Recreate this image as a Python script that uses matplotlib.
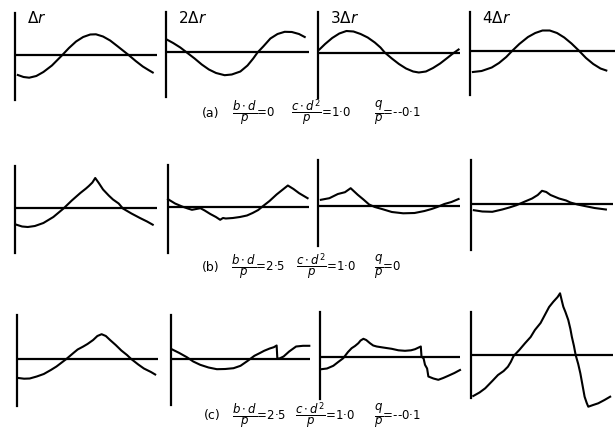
import numpy as np
import matplotlib
matplotlib.use("Agg")
import matplotlib.pyplot as plt

# time along each trace (fraction of the window) and displacement
a1_x = [0.02, 0.06, 0.10, 0.15, 0.20, 0.26, 0.33, 0.38, 0.43, 0.48, 0.53, 0.57, 0.62, 0.67, 0.72, 0.76, 0.80, 0.85, 0.90, 0.94, 0.97]
a1_y = [-2.0, -2.2, -2.27, -2.1, -1.7, -1.05, -0.05, 0.7, 1.35, 1.8, 2.05, 2.07, 1.85, 1.45, 0.9, 0.45, 0.0, -0.6, -1.15, -1.5, -1.75]
a2_x = [0.005, 0.05, 0.10, 0.15, 0.20, 0.25, 0.30, 0.35, 0.41, 0.46, 0.52, 0.57, 0.61, 0.64, 0.68, 0.73, 0.78, 0.83, 0.88, 0.93, 0.97]
a2_y = [1.3, 0.95, 0.5, -0.05, -0.6, -1.2, -1.7, -2.05, -2.27, -2.2, -1.9, -1.3, -0.6, 0.0, 0.6, 1.4, 1.85, 2.07, 2.05, 1.85, 1.55]
a3_x = [0.01, 0.05, 0.10, 0.15, 0.20, 0.25, 0.30, 0.35, 0.40, 0.44, 0.47, 0.52, 0.57, 0.62, 0.67, 0.71, 0.76, 0.81, 0.86, 0.91, 0.95, 0.99]
a3_y = [0.3, 0.85, 1.45, 1.9, 2.15, 2.1, 1.85, 1.5, 1.0, 0.5, 0.0, -0.6, -1.15, -1.6, -1.9, -2.0, -1.9, -1.55, -1.1, -0.55, -0.1, 0.3]
a4_x = [0.02, 0.08, 0.15, 0.20, 0.25, 0.29, 0.34, 0.40, 0.45, 0.50, 0.55, 0.60, 0.65, 0.70, 0.75, 0.80, 0.85, 0.90, 0.94]
a4_y = [-2.1, -2.0, -1.65, -1.2, -0.6, 0.0, 0.7, 1.4, 1.8, 2.05, 2.05, 1.8, 1.35, 0.75, 0.05, -0.7, -1.3, -1.75, -1.95]

b1_x = [0.01, 0.05, 0.09, 0.14, 0.20, 0.27, 0.34, 0.40, 0.46, 0.50, 0.52, 0.545, 0.565, 0.59, 0.62, 0.66, 0.69, 0.73, 0.76, 0.82, 0.88, 0.93, 0.97]
b1_y = [-1.67, -1.85, -1.9, -1.8, -1.5, -0.9, -0.07, 0.75, 1.5, 1.95, 2.2, 2.55, 3.0, 2.5, 1.85, 1.25, 0.85, 0.45, -0.05, -0.55, -1.0, -1.35, -1.67]
b2_x = [0.0, 0.05, 0.10, 0.14, 0.17, 0.20, 0.23, 0.26, 0.30, 0.34, 0.37, 0.39, 0.41, 0.46, 0.51, 0.56, 0.60, 0.64, 0.67, 0.72, 0.77, 0.81, 0.85, 0.89, 0.93, 0.99]
b2_y = [0.73, 0.3, 0.0, -0.2, -0.33, -0.25, -0.17, -0.4, -0.75, -1.05, -1.33, -1.15, -1.2, -1.15, -1.05, -0.9, -0.65, -0.35, 0.0, 0.55, 1.2, 1.65, 2.1, 1.75, 1.33, 0.83]
b3_x = [0.02, 0.08, 0.14, 0.19, 0.23, 0.28, 0.32, 0.36, 0.40, 0.45, 0.52, 0.60, 0.68, 0.75, 0.80, 0.84, 0.89, 0.94, 0.99]
b3_y = [0.57, 0.73, 1.15, 1.33, 1.73, 1.07, 0.6, 0.1, -0.15, -0.35, -0.65, -0.78, -0.75, -0.55, -0.35, -0.15, 0.15, 0.35, 0.65]
b4_x = [0.02, 0.08, 0.15, 0.22, 0.27, 0.32, 0.38, 0.43, 0.47, 0.50, 0.53, 0.56, 0.62, 0.67, 0.70, 0.75, 0.80, 0.87, 0.95]
b4_y = [-0.67, -0.8, -0.83, -0.6, -0.4, -0.17, 0.2, 0.5, 0.85, 1.27, 1.15, 0.85, 0.5, 0.3, 0.1, -0.1, -0.25, -0.45, -0.6]

c1_x = [0.01, 0.05, 0.09, 0.14, 0.19, 0.24, 0.28, 0.35, 0.40, 0.43, 0.47, 0.50, 0.54, 0.57, 0.60, 0.63, 0.66, 0.70, 0.74, 0.78, 0.81, 0.86, 0.90, 0.95, 0.98]
c1_y = [-1.9, -1.97, -1.95, -1.75, -1.5, -1.1, -0.75, 0.0, 0.6, 0.95, 1.25, 1.5, 1.9, 2.3, 2.48, 2.3, 1.9, 1.4, 0.85, 0.4, 0.0, -0.55, -0.95, -1.3, -1.55]
c2_x = [0.005, 0.06, 0.114, 0.16, 0.21, 0.27, 0.33, 0.39, 0.45, 0.50, 0.55, 0.60, 0.64, 0.67, 0.71, 0.74, 0.76, 0.765, 0.78, 0.81, 0.85, 0.90, 0.95, 0.995]
c2_y = [0.93, 0.55, 0.13, -0.3, -0.63, -0.9, -1.07, -1.05, -0.97, -0.73, -0.25, 0.27, 0.55, 0.77, 1.0, 1.13, 1.3, 0.0, 0.0, 0.2, 0.7, 1.2, 1.27, 1.27]
c3_x = [0.01, 0.05, 0.095, 0.13, 0.166, 0.20, 0.226, 0.25, 0.274, 0.29, 0.31, 0.33, 0.357, 0.38, 0.405, 0.45, 0.512, 0.56, 0.607, 0.65, 0.679, 0.72, 0.725, 0.74, 0.75, 0.765, 0.774, 0.81, 0.845, 0.88, 0.916, 0.96, 1.0]
c3_y = [-1.27, -1.2, -0.93, -0.55, -0.17, 0.45, 0.83, 1.05, 1.33, 1.6, 1.77, 1.65, 1.33, 1.1, 1.0, 0.9, 0.77, 0.62, 0.57, 0.62, 0.73, 1.0, 0.0, -0.2, -0.83, -1.2, -2.0, -2.2, -2.33, -2.15, -1.93, -1.65, -1.35]
c4_x = [0.016, 0.06, 0.10, 0.15, 0.19, 0.23, 0.26, 0.28, 0.30, 0.34, 0.38, 0.42, 0.45, 0.49, 0.52, 0.55, 0.58, 0.61, 0.627, 0.64, 0.65, 0.665, 0.685, 0.70, 0.71, 0.725, 0.737, 0.755, 0.77, 0.785, 0.80, 0.815, 0.826, 0.86, 0.896, 0.94, 0.98]
c4_y = [-4.1, -3.75, -3.33, -2.6, -2.0, -1.6, -1.17, -0.7, -0.1, 0.5, 1.17, 1.8, 2.5, 3.2, 4.0, 4.8, 5.33, 5.8, 6.17, 5.4, 4.83, 4.3, 3.5, 2.6, 1.83, 0.9, 0.0, -0.9, -1.83, -3.0, -4.17, -4.8, -5.17, -5.0, -4.83, -4.5, -4.17]

traces = [[(a1_x, a1_y), (a2_x, a2_y), (a3_x, a3_y), (a4_x, a4_y)],
	[(b1_x, b1_y), (b2_x, b2_y), (b3_x, b3_y), (b4_x, b4_y)],
	[(c1_x, c1_y), (c2_x, c2_y), (c3_x, c3_y), (c4_x, c4_y)]]

step_labels = [r"$\Delta r$", r"$2\Delta r$", r"$3\Delta r$", r"$4\Delta r$"]
case_labels = ["(a)", "(b)", "(c)"]
bd_vals = ["0", "2·5", "2·5"]
cd2_vals = ["1·0", "1·0", "1·0"]
q_vals = ["--0·1", "0", "--0·1"]

# panel frames in pixels: origin x, zero-line y, length, top and bottom of the axis line
frames = [[(15, 55, 142, 13, 100), (166, 52.5, 143, 12, 97), (318, 52.5, 142, 12, 98), (470, 51, 145, 12, 95)],
	[(15, 208, 142, 166, 253), (168, 206.5, 141, 165, 253), (318, 205.5, 142, 160, 246), (471, 203.5, 142, 160, 250)],
	[(17, 359, 141, 315, 406), (171, 358.5, 139, 315, 405), (320, 356.5, 140, 312, 399), (471, 355, 142, 312, 398)]]
caption_pos = [(202, 113, [232, 291, 374]), (202, 267, [231, 296, 374]), (204, 416, [232, 295, 374])]

W, H = 615, 432
fig = plt.figure(figsize=(W / 100, H / 100), dpi=100)

for r in range(3):
	for c in range(4):
		x0, y0, L, ytop, ybot = frames[r][c]
		ax = fig.add_axes([x0 / W, 1 - ybot / H, L / W, (ybot - ytop) / H])
		ax.patch.set_alpha(0)
		ax.set_xlim(0, 1)
		ax.set_ylim(-(ybot - y0) / 10, (y0 - ytop) / 10)
		for s in ["top", "right", "bottom"]:
			ax.spines[s].set_visible(False)
		ax.spines["left"].set_linewidth(1.6)
		ax.set_xticks([])
		ax.set_yticks([])
		ax.axhline(0, color="k", lw=1.6)
		x, y = traces[r][c]
		ax.plot(x, y, color="k", lw=1.5, clip_on=False)
		if r == 0:
			fig.text((x0 + 12) / W, 1 - 18 / H, step_labels[c], fontsize=11, va="center", ha="left")

	lx, ly, fx = caption_pos[r]
	fig.text(lx / W, 1 - ly / H, case_labels[r], fontsize=9, va="center")
	fig.text(fx[0] / W, 1 - ly / H, r"$\dfrac{b\cdot d}{p}$=" + bd_vals[r], fontsize=8.5, va="center")
	fig.text(fx[1] / W, 1 - ly / H, r"$\dfrac{c\cdot d^2}{p}$=" + cd2_vals[r], fontsize=8.5, va="center")
	fig.text(fx[2] / W, 1 - ly / H, r"$\dfrac{q}{p}$=" + q_vals[r], fontsize=8.5, va="center")

fig.savefig("out.png", dpi=100)
